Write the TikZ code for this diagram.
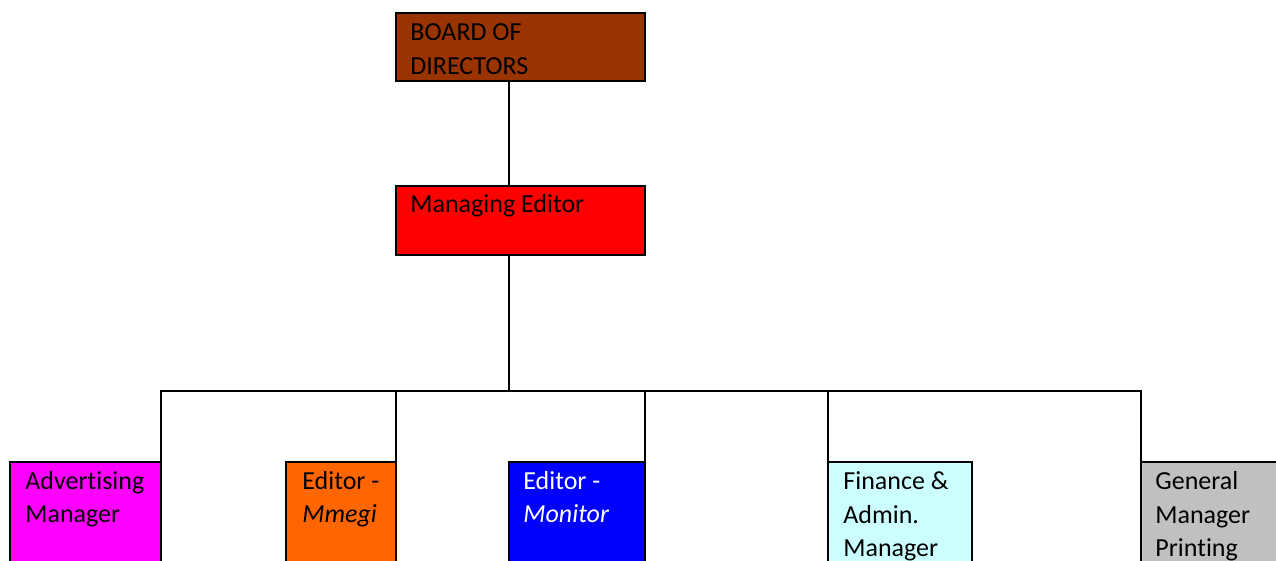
\documentclass[tikz,border=0pt]{standalone}
\usepackage{fontspec}
\setmainfont[Ligatures=NoCommon]{Carlito}
\usetikzlibrary{calc}
\definecolor{boardc}{HTML}{993300}
\definecolor{mgrc}{HTML}{FF0000}
\definecolor{advc}{HTML}{FF00FF}
\definecolor{mmegic}{HTML}{FF6600}
\definecolor{monc}{HTML}{0000FF}
\definecolor{finc}{HTML}{CCFFFF}
\definecolor{genc}{HTML}{C0C0C0}
\tikzset{
  orgbox/.style={draw=black, line width=1pt, rectangle, inner sep=0pt, outer sep=0pt, anchor=north west},
  orgtext/.style={anchor=base west, inner sep=0pt, align=left, font=\fontsize{13}{17}\selectfont},
  link/.style={draw=black, line width=1pt}
}
\begin{document}
\begin{tikzpicture}[x=0.5pt, y=-0.5pt]
\useasboundingbox (0,0) rectangle (1276,561);
\clip (0,0) rectangle (1276,561);
% boxes
\node[orgbox, fill=boardc, minimum width=124.5pt, minimum height=34pt] (board) at (396,13) {};
\node[orgbox, fill=mgrc, minimum width=124.5pt, minimum height=34.5pt] (mgr) at (396,186) {};
\node[orgbox, fill=advc, minimum width=75.5pt, minimum height=80pt] (adv) at (10,462) {};
\node[orgbox, fill=mmegic, minimum width=55pt, minimum height=80pt] (mmegi) at (286,462) {};
\node[orgbox, fill=monc, minimum width=68pt, minimum height=80pt] (mon) at (509,462) {};
\node[orgbox, fill=finc, minimum width=72pt, minimum height=80pt] (fin) at (828,462) {};
\node[orgbox, fill=genc, minimum width=80pt, minimum height=80pt] (gen) at (1141,462) {};
% texts (anchored at the baseline of their last line)
\node[orgtext] (tboard) at (410,75) {BOARD OF\\DIRECTORS};
\node[orgtext] (tmgr) at (410,213) {Managing Editor};
\node[orgtext] (tadv) at (25,523) {Advertising\\Manager};
\node[orgtext] (tmmegi) at (302,523) {Editor -\\\textit{Mmegi}};
\node[orgtext, text=white] (tmon) at (523,523) {Editor -\\\textit{Monitor}};
\node[orgtext] (tfin) at (843,557) {Finance \&\\Admin.\\Manager};
\node[orgtext] (tgen) at (1155,557) {General\\Manager\\Printing};
% connectors
\coordinate (bus) at (509,391);
\draw[link] ($(board.south west)+(113,0)$) -- ($(mgr.north west)+(113,0)$);
\draw[link] ($(mgr.south west)+(113,0)$) -- (bus);
\draw[link] (bus) -| (adv.north east);
\draw[link] (bus) -| (mmegi.north east);
\draw[link] (bus) -| (mon.north east);
\draw[link] (bus) -| (fin.north west);
\draw[link] (bus) -| (gen.north west);
\end{tikzpicture}
\end{document}
